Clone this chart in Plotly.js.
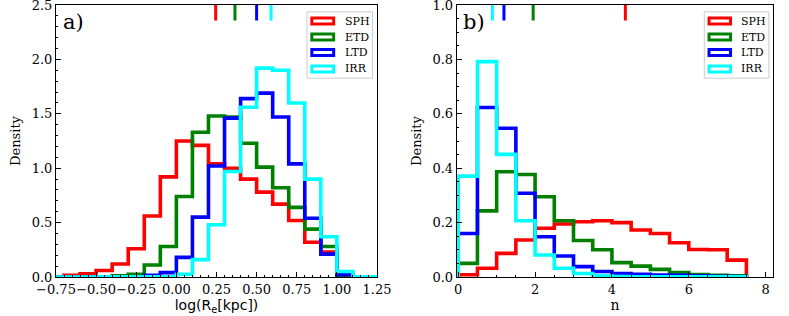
<!DOCTYPE html>
<html>
<head>
<meta charset="utf-8">
<script src="https://cdn.plot.ly/plotly-3.0.1.min.js"></script>
<style>html,body{margin:0;padding:0;background:#fff;}#chart{width:789px;height:316px;}</style>
</head>
<body>
<div id="chart"></div>
<script>
// ---------- data ----------
var classes = ["SPH", "ETD", "LTD", "IRR"];
var colors = ["#ff0000", "#008000", "#0000ff", "#00ffff"];

// panel a) : log(Re) histograms, bin width 0.1
var reEdges = [-0.8,-0.7,-0.6,-0.5,-0.4,-0.3,-0.2,-0.1,0.0,0.1,0.2,0.3,0.4,0.5,0.6,0.7,0.8,0.9,1.0,1.1,1.2,1.3];
var reSPH = [0,0.015,0.03,0.06,0.12,0.26,0.56,0.92,1.25,1.21,1.04,1.00,0.90,0.78,0.67,0.52,0.32,0.23,0,0,0];
var reETD = [0,0,0,0,0.01,0.025,0.11,0.28,0.74,1.33,1.48,1.47,1.23,1.01,0.82,0.64,0.44,0.28,0,0,0];
var reLTD = [0,0,0,0,0.005,0.005,0.015,0.04,0.18,0.55,1.02,1.46,1.64,1.69,1.47,1.04,0.54,0.21,0.02,0,0];
var reIRR = [0,0,0,0,0,0,0,0.005,0.025,0.16,0.48,0.97,1.56,1.92,1.90,1.60,0.90,0.37,0.05,0.005,0];
var reMedian = [0.245, 0.365, 0.50, 0.59];

// panel b) : Sersic n histograms, bin width 0.5
var nEdges = [0,0.5,1,1.5,2,2.5,3,3.5,4,4.5,5,5.5,6,6.5,7,7.5];
var nSPH = [0.008,0.032,0.087,0.136,0.179,0.195,0.203,0.207,0.200,0.173,0.160,0.126,0.101,0.100,0.062];
var nETD = [0.05,0.243,0.387,0.377,0.295,0.207,0.134,0.100,0.053,0.040,0.028,0.016,0.009,0.006,0.004];
var nLTD = [0.16,0.623,0.547,0.308,0.148,0.077,0.038,0.020,0.013,0.010,0.007,0.006,0.004,0.003,0.002];
var nIRR = [0.371,0.792,0.451,0.207,0.081,0.032,0.013,0.004,0.002,0.001,0.001,0.001,0.001,0.001,0.001];
var nMedian = [4.35, 1.95, 1.19, 0.89];

// ---------- helpers ----------
function stepOutline(edges, vals) {
  var xs = [edges[0]], ys = [0];
  for (var i = 0; i < vals.length; i++) {
    xs.push(edges[i], edges[i + 1]);
    ys.push(vals[i], vals[i]);
  }
  xs.push(edges[edges.length - 1]); ys.push(0);
  return {x: xs, y: ys};
}

var traces = [];
var reSeries = [reSPH, reETD, reLTD, reIRR];
var nSeries = [nSPH, nETD, nLTD, nIRR];
for (var k = 0; k < classes.length; k++) {
  var a = stepOutline(reEdges, reSeries[k]);
  traces.push({type: "scatter", mode: "lines", x: a.x, y: a.y, xaxis: "x", yaxis: "y",
    name: classes[k], showlegend: false, hoverinfo: "skip",
    line: {color: colors[k], width: 3.6, shape: "linear"}});
}
for (var k = 0; k < classes.length; k++) {
  var b = stepOutline(nEdges, nSeries[k]);
  traces.push({type: "scatter", mode: "lines", x: b.x, y: b.y, xaxis: "x2", yaxis: "y2",
    name: classes[k], showlegend: false, hoverinfo: "skip",
    line: {color: colors[k], width: 3.6, shape: "linear"}});
}

var shapes = [];
var annotations = [];
function addPanelDecor(xr, yr, medians, label) {
  var xd = xr + " domain", yd = yr + " domain";
  for (var k = 0; k < classes.length; k++) {
    shapes.push({type: "line", xref: xr, yref: yd, x0: medians[k], x1: medians[k], y0: 0.943, y1: 1.0,
      line: {color: colors[k], width: 3}});
  }
  // legend frame
  shapes.push({type: "rect", xref: xd, yref: yd, x0: 0.782, x1: 0.986, y0: 0.731, y1: 0.975,
    fillcolor: "rgba(255,255,255,0.85)", line: {color: "#cccccc", width: 1}});
  var rowY = [0.941, 0.882, 0.825, 0.765];
  for (var k = 0; k < classes.length; k++) {
    shapes.push({type: "rect", xref: xd, yref: yd, x0: 0.797, x1: 0.865,
      y0: rowY[k] - 0.011, y1: rowY[k] + 0.011, fillcolor: "white",
      line: {color: colors[k], width: 3}});
    annotations.push({xref: xd, yref: yd, x: 0.893, y: rowY[k], xanchor: "left", yanchor: "middle",
      text: classes[k], showarrow: false, font: {family: "DejaVu Serif", size: 11, color: "black"}});
  }
  annotations.push({xref: xd, yref: yd, x: 0.015, y: 0.99, xanchor: "left", yanchor: "top",
    text: label, showarrow: false, font: {family: "DejaVu Serif", size: 21, color: "black"}});
}
addPanelDecor("x", "y", reMedian, "a)");
addPanelDecor("x2", "y2", nMedian, "b)");

function axisBase() {
  return {showgrid: false, zeroline: false, showline: true, mirror: true, linecolor: "black", linewidth: 1,
    ticks: "inside", ticklen: 5, tickwidth: 1, tickcolor: "black", tickangle: 0,
    ticklabeloverflow: "allow",
    tickfont: {family: "DejaVu Serif", size: 13, color: "black"}, fixedrange: true};
}
var xa = axisBase();
Object.assign(xa, {domain: [0.07097, 0.47782], range: [-0.75, 1.25], tick0: 0, dtick: 0.25, tickformat: ".2f",
  minor: {ticks: "inside", dtick: 0.05, ticklen: 2.5, tickcolor: "black"}, anchor: "y",
  title: {text: "log(R<sub>e</sub>[kpc])", font: {family: "DejaVu Sans", size: 14, color: "black"}, standoff: 4}});
var ya = axisBase();
Object.assign(ya, {domain: [0, 1], range: [0, 2.5001], tick0: 0, dtick: 0.5, tickformat: ".1f",
  minor: {ticks: "inside", dtick: 0.1, ticklen: 2.5, tickcolor: "black"}, anchor: "x",
  title: {text: "Density", font: {family: "DejaVu Serif", size: 13, color: "black"}}});
var xb = axisBase();
Object.assign(xb, {domain: [0.57883, 0.98010], range: [-0.04, 8.2], tick0: 0, dtick: 2, tickformat: "d",
  minor: {ticks: "inside", dtick: 0.5, ticklen: 2.5, tickcolor: "black"}, anchor: "y2",
  title: {text: "n", font: {family: "DejaVu Serif", size: 14, color: "black"}, standoff: 4}});
var yb = axisBase();
Object.assign(yb, {domain: [0, 1], range: [0, 1.0001], tick0: 0, dtick: 0.2, tickformat: ".1f",
  minor: {ticks: "inside", dtick: 0.05, ticklen: 2.5, tickcolor: "black"}, anchor: "x2",
  title: {text: "Density", font: {family: "DejaVu Serif", size: 13, color: "black"}}});

var layout = {
  width: 789, height: 316,
  margin: {l: 0, r: 0, t: 5, b: 39, pad: 0},
  paper_bgcolor: "white", plot_bgcolor: "white",
  font: {family: "DejaVu Serif", size: 13, color: "black"},
  showlegend: false,
  xaxis: xa, yaxis: ya, xaxis2: xb, yaxis2: yb,
  shapes: shapes, annotations: annotations
};
Plotly.newPlot("chart", traces, layout, {staticPlot: true, displayModeBar: false});
</script>
</body>
</html>
